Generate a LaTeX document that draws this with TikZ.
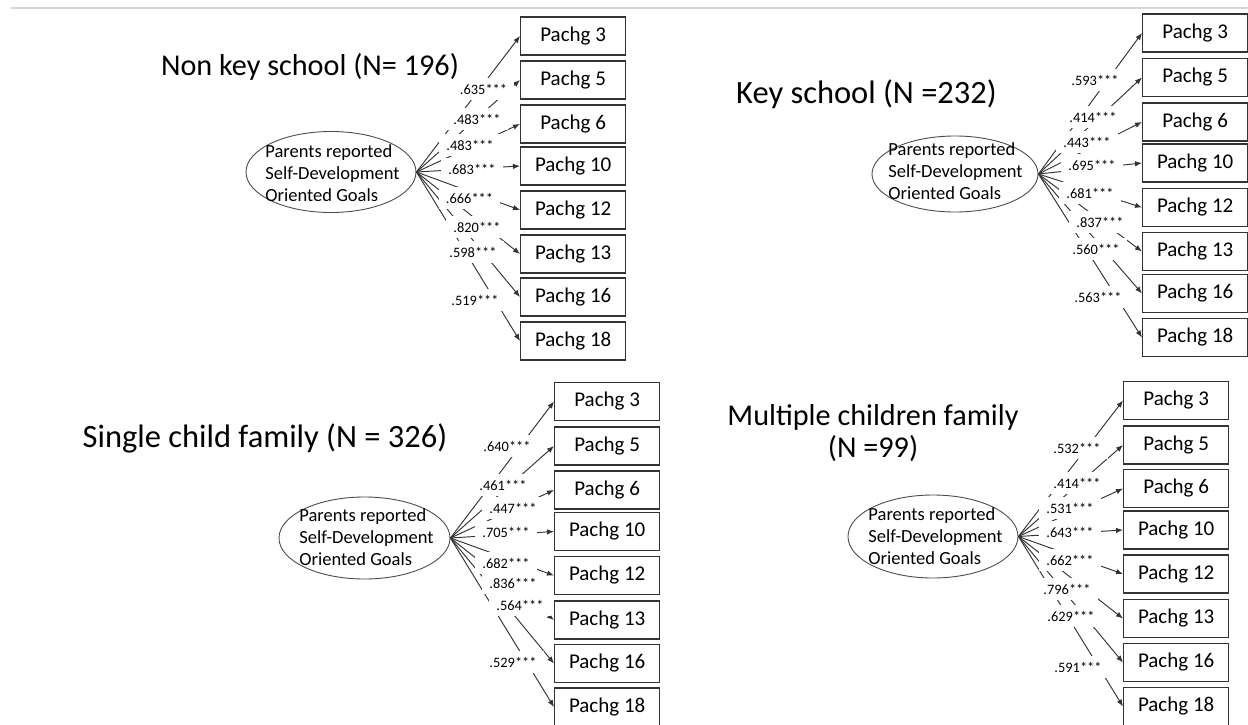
\documentclass[tikz,border=0pt]{standalone}
\usepackage{fontspec}
\setmainfont{Carlito}
\usetikzlibrary{arrows.meta,shapes.geometric}
\definecolor{rulegray}{RGB}{215,215,215}
\tikzset{
  construct/.style={ellipse, draw=black!70, line width=0.9pt, minimum width=170pt, minimum height=81pt, inner sep=0pt},
  constructtext/.style={align=left, font=\fontsize{18.5}{22}\selectfont, inner sep=0pt},
  indicator/.style={draw=black!80, line width=1.3pt, minimum width=105pt, minimum height=38pt, inner sep=0pt, font=\fontsize{21}{25}\selectfont, anchor=west},
  loading/.style={draw=black!80, line width=0.95pt, -{Latex[length=7pt,width=5.5pt]}},
  coef/.style={fill=white, inner xsep=7pt, inner ysep=6pt, font=\fontsize{14.4}{17}\selectfont},
  grouptitle/.style={font=\fontsize{32.5}{32}\selectfont, align=center, inner sep=0pt, anchor=base},
}
\begin{document}
\begin{tikzpicture}[x=1pt,y=-1pt]
\useasboundingbox (0,0) rectangle (1248,725);
\draw[rulegray, line width=1.5pt] (11,8) -- (1248,8);

% ---------- Non key school ----------
\node[grouptitle, font=\fontsize{30.2}{32}\selectfont] (tA) at (310,76) {Non key school (N= 196)};
\node[construct] (sA) at (331,172) {};
\node[constructtext] (sAt) at (332.5,173) {Parents reported\\Self-Development\\Oriented Goals};
\foreach \k/\y in {3/36,5/80,6/124,10/166,12/210,13/254,16/297,18/341}
  \node[indicator] (sA\k) at (520,\y) {Pachg \k};
\foreach \k in {3,5,6,10,12,13,16,18}
  \draw[loading] (sA.east) -- (sA\k.west);
\foreach \t/\x/\y in {.635***/483.5/89, .483***/477/119, .483***/470/145, .683***/472/169,
                      .666***/469.5/198, .820***/477/227, .598***/473/252, .519***/475/300}
  \node[coef] at (\x,\y) {\t};

% ---------- Key school ----------
\node[grouptitle] (tB) at (866.5,103) {Key school (N =232)};
\node[construct, minimum width=166pt, minimum height=76pt] (sB) at (955,174) {};
\node[constructtext] (sBt) at (955.5,171) {Parents reported\\Self-Development\\Oriented Goals};
\foreach \k/\y in {3/33,5/77.5,6/122,10/163,12/207.5,13/251.5,16/293.5,18/337.5}
  \node[indicator] (sB\k) at (1142,\y) {Pachg \k};
\foreach \k in {3,5,6,10,12,13,16,18}
  \draw[loading] (sB.east) -- (sB\k.west);
\foreach \t/\x/\y in {.593***/1095/80, .414***/1093/117, .443***/1087/142, .695***/1092/165,
                      .681***/1090/193, .837***/1100/222, .560***/1096/249, .563***/1098/297}
  \node[coef] at (\x,\y) {\t};

% ---------- Single child family ----------
\node[grouptitle] (tC) at (265,447) {Single child family (N = 326)};
\node[construct, minimum width=171pt, minimum height=82pt] (sC) at (364.5,538) {};
\node[constructtext] (sCt) at (366.5,537.5) {Parents reported\\Self-Development\\Oriented Goals};
\foreach \k/\y in {3/401.5,5/446,6/490,10/531.5,12/575.5,13/620,16/663.5,18/707}
  \node[indicator] (sC\k) at (554,\y) {Pachg \k};
\foreach \k in {3,5,6,10,12,13,16,18}
  \draw[loading] (sC.east) -- (sC\k.west);
\foreach \t/\x/\y in {.640***/507/446, .461***/503/485, .447***/513/508, .705***/506/532,
                      .682***/506/563, .836***/513/583, .564***/520/605, .529***/513/662}
  \node[coef] at (\x,\y) {\t};

% ---------- Multiple children family ----------
\node[grouptitle, font=\fontsize{30.2}{32}\selectfont] (tD) at (873,457) {Multiple children family\\(N =99)};
\node[construct, minimum height=83pt] (sD) at (933,536.5) {};
\node[constructtext] (sDt) at (935.5,536) {Parents reported\\Self-Development\\Oriented Goals};
\foreach \k/\y in {3/400.5,5/445,6/488.5,10/530,12/574,13/618.5,16/662.5,18/706.5}
  \node[indicator] (sD\k) at (1123,\y) {Pachg \k};
\foreach \k in {3,5,6,10,12,13,16,18}
  \draw[loading] (sD.east) -- (sD\k.west);
\foreach \t/\x/\y in {.532***/1077/448, .414***/1077/483, .531***/1070/508, .643***/1070/532,
                      .662***/1070/560, .796***/1067/589, .629***/1071/616, .591***/1078/667}
  \node[coef] at (\x,\y) {\t};
\end{tikzpicture}
\end{document}
